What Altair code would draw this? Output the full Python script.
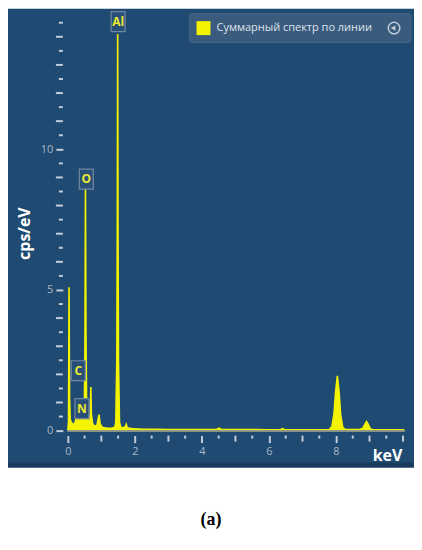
import altair as alt
import pandas as pd

# ---- data ----
kev = [0.00, 0.02, 0.035, 0.05, 0.07, 0.10, 0.14, 0.18, 0.22, 0.25, 0.28, 0.31, 0.34,
       0.37, 0.39, 0.42, 0.46, 0.49, 0.51, 0.525, 0.54, 0.56, 0.60, 0.64, 0.67, 0.685,
       0.70, 0.74, 0.80, 0.87, 0.91, 0.93, 0.96, 1.02, 1.10, 1.20, 1.30, 1.40, 1.43,
       1.46, 1.475, 1.486, 1.497, 1.51, 1.54, 1.58, 1.66, 1.72, 1.74, 1.77, 1.90, 2.10,
       2.30, 2.60, 3.00, 3.50, 4.00, 4.45, 4.51, 4.57, 5.00, 5.50, 6.00, 6.35, 6.40,
       6.46, 7.00, 7.50, 7.80, 7.88, 7.94, 7.99, 8.04, 8.09, 8.14, 8.20, 8.28, 8.70,
       8.80, 8.86, 8.91, 8.96, 9.02, 9.10, 9.60, 10.00, 10.05]
cps = [0.00, 0.30, 5.10, 1.20, 0.40, 0.30, 0.25, 0.20, 0.30, 0.50, 0.75, 0.45, 0.30,
       0.35, 0.50, 0.35, 0.30, 0.60, 3.00, 8.60, 3.50, 0.80, 0.35, 0.30, 0.60, 1.55,
       0.60, 0.25, 0.15, 0.20, 0.45, 0.57, 0.25, 0.12, 0.10, 0.08, 0.08, 0.12, 0.30,
       2.50, 7.00, 14.10, 7.00, 2.50, 0.30, 0.12, 0.10, 0.15, 0.22, 0.10, 0.07, 0.06,
       0.05, 0.05, 0.04, 0.04, 0.04, 0.05, 0.09, 0.05, 0.04, 0.04, 0.03, 0.04, 0.07,
       0.04, 0.03, 0.03, 0.04, 0.15, 0.60, 1.40, 1.95, 1.40, 0.55, 0.12, 0.04, 0.04,
       0.08, 0.22, 0.32, 0.22, 0.07, 0.03, 0.03, 0.03, 0.00]
series_name = "Суммарный спектр по линии"

elements = ["Al", "O", "C", "N"]
label_kev = [1.50, 0.55, 0.31, 0.42]
label_cps = [14.54, 8.94, 2.13, 0.78]

x_labeled = [0, 2, 4, 6, 8]
x_major = [1, 3, 5, 7, 9, 10]
x_minor = [0.5, 1.5, 2.5, 3.5, 4.5, 5.5, 6.5, 7.5, 8.5, 9.5]
y_labeled = [0, 5, 10]
y_major = [1, 2, 3, 4, 6, 7, 8, 9, 11, 12, 13, 14]
y_minor = [v + 0.5 for v in range(15)]

BG = "#1f4a72"
TICK = "#c3ccd8"
LABEL = "#a8b6c6"
YEL = "#f4f400"
FONT = "Open Sans"

spec = pd.DataFrame({"keV": kev, "cps": cps, "series": series_name})
labels = pd.DataFrame({"el": elements, "keV": label_kev, "cps": label_cps})
legend_df = pd.DataFrame({"series": [series_name]})
xmaj_df = pd.DataFrame({"t": x_major})
xmin_df = pd.DataFrame({"t": x_minor})
ymaj_df = pd.DataFrame({"t": y_major})
ymin_df = pd.DataFrame({"t": y_minor})

xscale = alt.Scale(domain=[-1.786, 10.327], nice=False, zero=False)
yscale = alt.Scale(domain=[-1.312, 15.0], nice=False, zero=False)

common = dict(domain=False, grid=False, tickColor=TICK, tickWidth=2,
              labelColor=LABEL, labelFontSize=11, labelFont=FONT, labelPadding=3,
              labelOverlap=False, format="~g")

xaxis_lab = alt.Axis(
    values=x_labeled, orient="bottom", offset=-32, tickSize=7,
    title="keV", titleColor="white", titleFontSize=16, titleFont=FONT,
    titleFontWeight="bold", titleX=380, titleY=20, titleAlign="center",
    titleBaseline="middle", **common,
)
yaxis_lab = alt.Axis(
    values=y_labeled, orient="left", offset=-55, tickSize=7,
    title="cps/eV", titleColor="white", titleFontSize=16, titleFont=FONT,
    titleFontWeight="bold", titleAngle=270, titleX=-38, titleY=225,
    titleAlign="center", titleBaseline="middle", **common,
)

bottom_band = alt.Chart(legend_df).mark_rect(fill="#1b3b5e").encode(
    x=alt.value(0), x2=alt.value(407), y=alt.value(455), y2=alt.value(460)
)

# unlabeled axis ticks (same look as the labeled ones)
xt_major = alt.Chart(xmaj_df).mark_tick(
    orient="vertical", color=TICK, size=6, thickness=2, opacity=1
).encode(x=alt.X("t:Q", scale=xscale), y=alt.value(431))
xt_minor = alt.Chart(xmin_df).mark_tick(
    orient="vertical", color=TICK, size=3, thickness=2, opacity=1
).encode(x=alt.X("t:Q", scale=xscale), y=alt.value(429.5))
yt_major = alt.Chart(ymaj_df).mark_tick(
    orient="horizontal", color=TICK, size=7, thickness=2, opacity=1
).encode(y=alt.Y("t:Q", scale=yscale), x=alt.value(51.5))
yt_minor = alt.Chart(ymin_df).mark_tick(
    orient="horizontal", color=TICK, size=4, thickness=2, opacity=1
).encode(y=alt.Y("t:Q", scale=yscale), x=alt.value(53))

area = alt.Chart(spec).mark_area(interpolate="linear", color=YEL, opacity=1).encode(
    x=alt.X("keV:Q", scale=xscale, axis=xaxis_lab),
    y=alt.Y("cps:Q", scale=yscale, axis=yaxis_lab),
    y2=alt.datum(0),
)
line = alt.Chart(spec).mark_line(interpolate="linear", color=YEL, strokeWidth=1.6).encode(
    x="keV:Q", y="cps:Q"
)

baseline = alt.Chart(spec).mark_rule(color="#8e9c8c", strokeWidth=1).encode(
    x=alt.datum(0), x2=alt.datum(10.05), y=alt.datum(0)
)

boxes = alt.Chart(labels).mark_point(
    shape="M-0.7,-1H0.7V1H-0.7Z", size=400, filled=True,
    fill="#284f78", stroke="#7088a3", strokeWidth=1.2, opacity=1,
).encode(x="keV:Q", y="cps:Q")

texts = alt.Chart(labels).mark_text(
    color="#eaea30", font=FONT, fontSize=12, fontWeight="bold",
    baseline="middle", align="center",
).encode(x="keV:Q", y="cps:Q", text="el:N")

# legend panel in the top-right corner, as drawn by the instrument software
leg_box = alt.Chart(legend_df).mark_rect(
    fill="#3a5a7e", stroke="#46668b", strokeWidth=1, cornerRadius=2
).encode(x=alt.value(182), x2=alt.value(404), y=alt.value(5), y2=alt.value(34))
leg_sym = alt.Chart(legend_df).mark_point(
    shape="square", size=196, filled=True, fill=YEL, opacity=1
).encode(x=alt.value(196), y=alt.value(19.5))
leg_txt = alt.Chart(legend_df).mark_text(
    align="left", baseline="middle", color="#dde4ec", font=FONT, fontSize=11
).encode(x=alt.value(209), y=alt.value(19.5), text="series:N")
icon = alt.Chart(legend_df).mark_point(
    shape="circle", size=133, filled=False, stroke="#c2ccd8", strokeWidth=1.5, opacity=1
).encode(x=alt.value(387), y=alt.value(19.5))
icon_tri = alt.Chart(legend_df).mark_point(
    shape="triangle-left", size=30, filled=True, fill="#c2ccd8", opacity=1
).encode(x=alt.value(386), y=alt.value(19.5))

chart = alt.layer(
    bottom_band, area, line, baseline, xt_major, xt_minor, yt_major, yt_minor,
    boxes, texts, leg_box, leg_sym, leg_txt, icon, icon_tri
).properties(
    width=407, height=460,
    autosize=alt.AutoSizeParams(type="none"),
    padding={"left": 0, "top": 0, "right": 0, "bottom": 80},
    background="white",
    title=alt.TitleParams(
        "(a)", orient="bottom", anchor="middle", font="Liberation Serif",
        fontSize=18, fontWeight="bold", color="black", offset=44,
    ),
).configure_view(fill=BG, stroke=None)

chart.save("out.html", embed_options={"renderer": "svg", "actions": False})
